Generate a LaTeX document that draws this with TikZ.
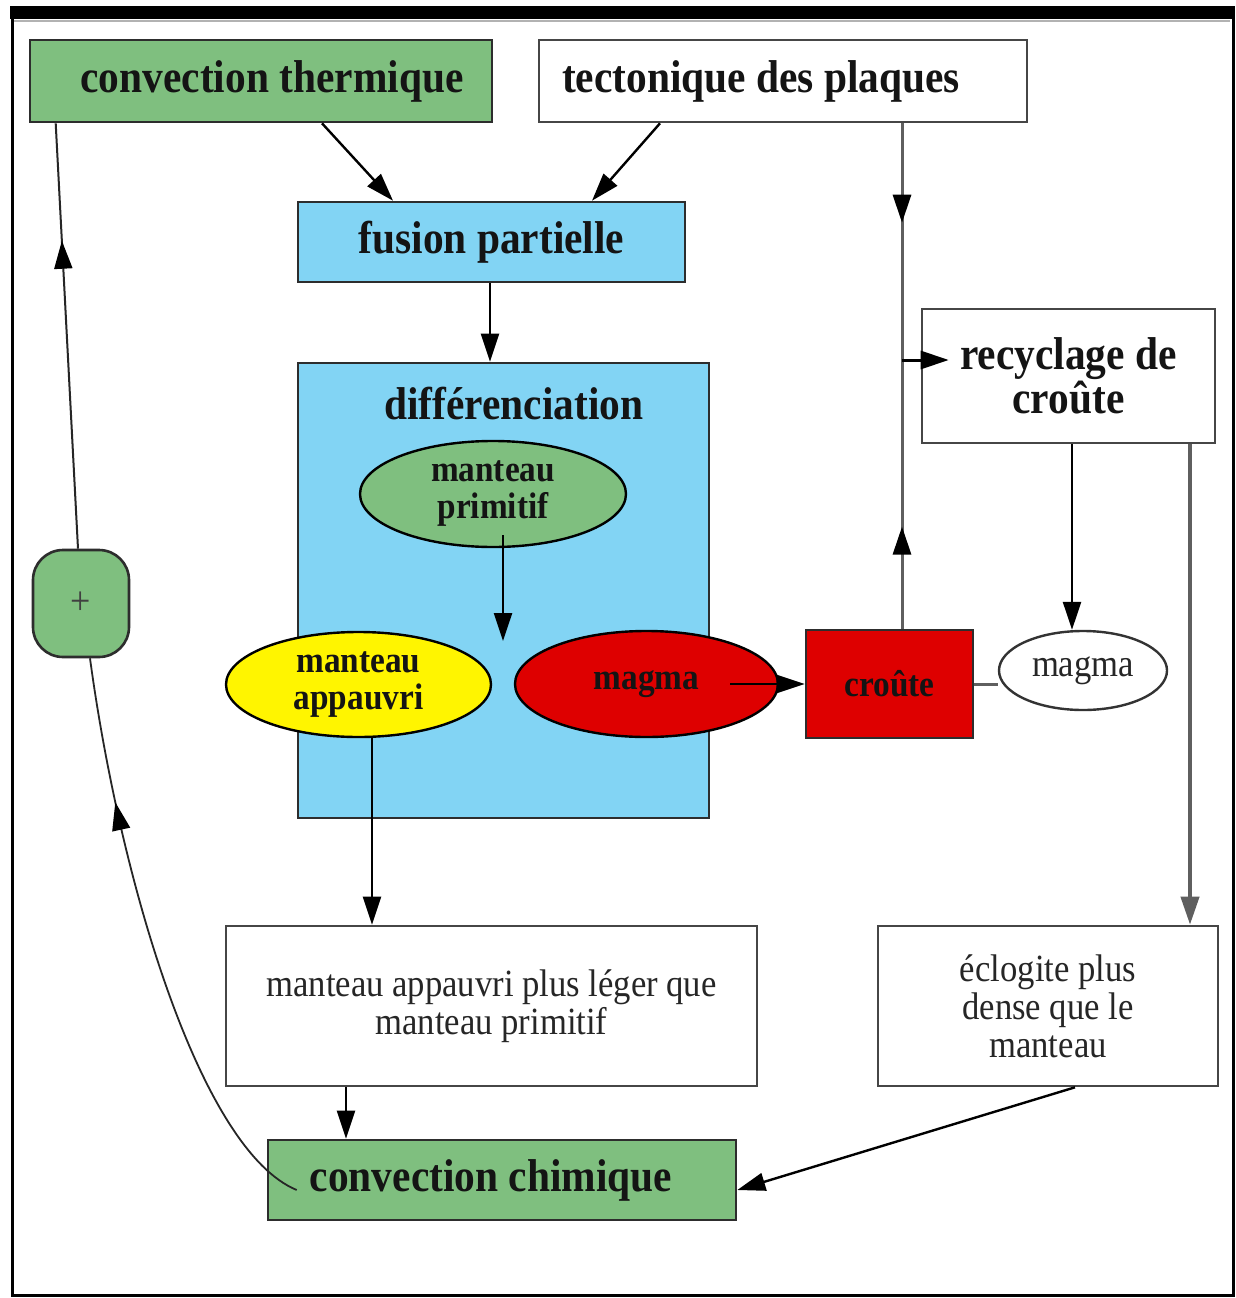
\documentclass[tikz,border=0pt]{standalone}
\usepackage{fontspec}
\setmainfont{Liberation Serif}[FakeStretch=0.9]
\usetikzlibrary{arrows.meta,decorations.markings,shapes.geometric,calc}
\definecolor{gfill}{RGB}{127,191,127}
\definecolor{bfill}{RGB}{130,212,244}
\definecolor{yfill}{RGB}{255,245,0}
\definecolor{rfill}{RGB}{222,0,0}
\definecolor{bord}{RGB}{45,45,45}
\definecolor{gline}{RGB}{95,95,95}
\begin{document}
\begin{tikzpicture}[x=1pt,y=-1pt,
  >={Triangle[length=28pt,width=18pt]},
  box/.style={draw=bord, line width=2.6pt, inner sep=0pt, align=center},
  gbox/.style={box, fill=gfill},
  bbox/.style={box, fill=bfill},
  wbox/.style={box, fill=white, draw=gray!55!black},
  ell/.style={ellipse, draw=black, line width=2.4pt, inner sep=0pt, align=center},
  bigt/.style={font=\fontsize{46}{42}\selectfont\bfseries, text=black!92},
  smb/.style={font=\fontsize{37}{37}\selectfont\bfseries, text=black!92},
  smr/.style={font=\fontsize{38.5}{38}\selectfont, text=black!85},
  arr/.style={->, line width=2.4pt, black},
  gl/.style={line width=3pt, gline},
  midarrow/.style={postaction={decorate}, decoration={markings, mark=at position #1 with {\arrow[black]{>}}}},
  midarrowrev/.style={postaction={decorate}, decoration={markings, mark=at position #1 with {\arrowreversed[black]{>}}}}
]
\useasboundingbox (0,0) rectangle (1235,1298);
\fill[white] (0,0) rectangle (1235,1298);
% frame
\draw[line width=3pt] (12,14) rectangle (1233,1295);
\fill (10,6) rectangle (1235,19);
\draw[gray!60, line width=1.5pt] (14,21) -- (1230,21);

% nodes
\node[gbox, bigt, minimum width=462pt, minimum height=82pt] (ct) at (261,81) {\hspace*{22pt}convection thermique};
\node[wbox, bigt, minimum width=488pt, minimum height=82pt] (tp) at (783,81) {tectonique des plaques\hspace*{44pt}};
\node[bbox, bigt, minimum width=387pt, minimum height=80pt] (fp) at (491.5,242) {fusion partielle};
\node[bbox, minimum width=411pt, minimum height=455pt] (diff) at (503.5,590.5) {};
\node[bigt] (difflab) at (514,404) {différenciation};
\node[ell, smb, fill=gfill, minimum width=266pt, minimum height=106pt] (mp) at (493,494) {manteau\\primitif};
\node[ell, smb, fill=yfill, minimum width=265pt, minimum height=105pt] (ma) at (358.5,684.5) {manteau\\appauvri};
\node[ell, smb, fill=rfill, minimum width=263pt, minimum height=106pt] (mg) at (646.5,684) {magma};
\node[box, smb, fill=rfill, minimum width=167pt, minimum height=108pt] (cr) at (889.5,684) {croûte};
\node[ell, smr, fill=white, draw=gray!40!black, line width=2.4pt, minimum width=168pt, minimum height=79pt] (mw) at (1083,670.5) {magma};
\node[wbox, bigt, minimum width=293pt, minimum height=134pt] (rc) at (1068.5,376) {recyclage de\\croûte};
\node[wbox, smr, minimum width=531pt, minimum height=160pt] (ml) at (491.5,1006) {manteau appauvri plus léger que\\manteau primitif};
\node[wbox, smr, minimum width=340pt, minimum height=160pt] (ec) at (1048,1006) {éclogite plus\\dense que le\\manteau};
\node[gbox, bigt, minimum width=468pt, minimum height=80pt] (cc) at (502,1180) {convection chimique\hspace*{22pt}};
\node[gbox, rounded corners=30pt, minimum width=96pt, minimum height=107pt, font=\fontsize{40}{40}\selectfont, text=black!75] (plus) at (81,603.5) {+};

% connectors
\draw[arr] ([xshift=61pt]ct.south) -- ([xshift=-98.5pt]fp.north);
\draw[arr] ([xshift=-123pt]tp.south) -- ([xshift=100.5pt]fp.north);
\draw[arr] ([xshift=-1.5pt]fp.south) -- ([xshift=-1.5pt]fp.south |- diff.north);

\coordinate (jct) at (902,360);
\draw[gl, midarrow=0.42] ([xshift=119pt]tp.south) -- (jct);
\draw[gl, midarrowrev=0.62] (jct) -- ([xshift=12.5pt]cr.north);
\draw[gl, ->, black] (jct) -- ([shift={(28,-16)}]rc.west);

\coordinate (mpend) at (503,641);
\draw[arr] ([shift={(10,41)}]mp.center) -- (mpend);
\draw[arr] ([xshift=83.5pt]mg.center) -- (cr.west);
\draw[gl] (cr.east) -- (cr.east -| mw.west);
\draw[arr] ([xshift=3.5pt]rc.south) -- ([xshift=3.5pt]rc.south |- mw.north);
\draw[line width=4pt, gline, ->] ([xshift=121.5pt]rc.south) -- ([xshift=121.5pt]rc.south |- ec.north);
\draw[arr] ([xshift=13.5pt]ma.south) -- ([xshift=13.5pt]ma.south |- ml.north);
\draw[arr] ([xshift=-145.5pt]ml.south) -- ([xshift=-145.5pt]ml.south |- cc.north);
\draw[arr] ([xshift=27pt]ec.south) -- ([yshift=-10pt]cc.east);

\draw[line width=1.8pt, black!85, midarrow=0.75] ([shift={(30,10)}]cc.west) .. controls (200,1150) and (120,880) .. ([xshift=9pt]plus.south);
\draw[line width=2pt, black!85, midarrow=0.724] ([xshift=-3pt]plus.north) -- ([xshift=27pt]ct.south west);
\end{tikzpicture}
\end{document}
